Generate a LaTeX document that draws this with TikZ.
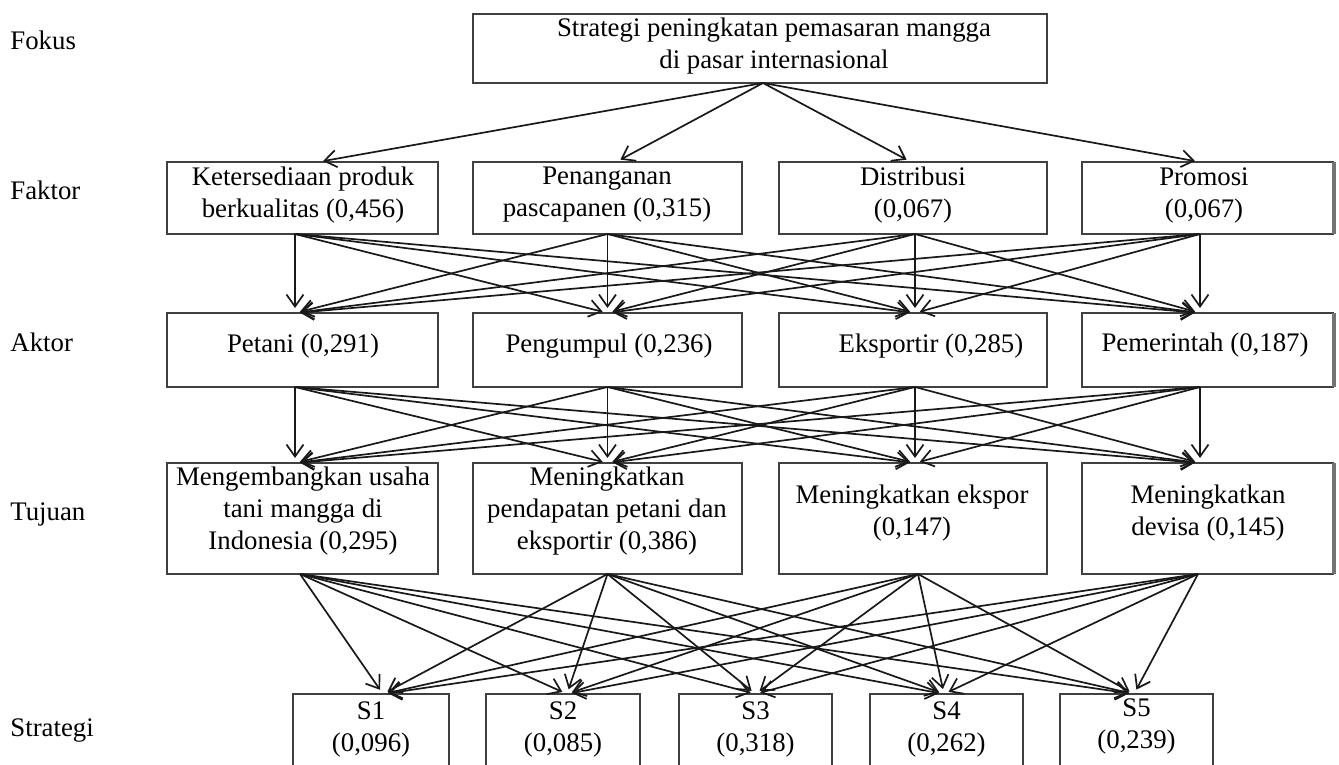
\documentclass[tikz,border=0pt]{standalone}
\usepackage{fontspec}
\setmainfont{Liberation Serif}
\usetikzlibrary{arrows.meta}
\begin{document}
\begin{tikzpicture}[x=0.5pt,y=-0.5pt,
  box/.style={draw=black!75, line width=1.1pt, rectangle, inner sep=0pt, outer sep=0pt},
  txt/.style={align=center, font=\fontsize{13.4}{16}\selectfont, inner sep=0pt},
  lbl/.style={anchor=base west, font=\fontsize{13.4}{16}\selectfont, inner sep=0pt},
  arr/.style={draw=black!90, line width=0.85pt, -{Straight Barb[length=6pt,width=8.5pt]}, shorten >=2.5pt},
  edge4/.style={draw=black!55, line width=2pt}
]
\useasboundingbox (0,0) rectangle (1339,765);
\clip (0,0) rectangle (1339,765);

% left labels
\node[lbl] (lfokus) at (10,50) {Fokus};
\node[lbl] (lfaktor) at (10,199) {Faktor};
\node[lbl] (laktor) at (10,351) {Aktor};
\node[lbl] (ltujuan) at (10,520) {Tujuan};
\node[lbl] (lstrategi) at (10,736) {Strategi};

% focus
\node[box, minimum width=287pt, minimum height=34.5pt] (T) at (760,48.5) {};
\node[txt] (Tt) at (774,46) {Strategi peningkatan pemasaran mangga\\di pasar internasional};

% faktor
\node[box, minimum width=135.5pt, minimum height=36pt] (f1) at (302.5,198) {};
\node[box, minimum width=134.5pt, minimum height=36pt] (f2) at (607.5,198) {};
\node[box, minimum width=134pt,   minimum height=36pt] (f3) at (913,198) {};
\node[box, minimum width=125.5pt, minimum height=36pt] (f4) at (1207.5,198) {};
\node[txt] (f1t) at (303,195) {Ketersediaan produk\\berkualitas (0,456)};
\node[txt] (f2t) at (607,195) {Penanganan\\pascapanen (0,315)};
\node[txt] (f3t) at (913,195) {Distribusi\\(0,067)};
\node[txt] (f4t) at (1204,195) {Promosi\\(0,067)};

% aktor
\node[box, minimum width=135.5pt, minimum height=37pt] (a1) at (302.5,350) {};
\node[box, minimum width=134.5pt, minimum height=37pt] (a2) at (607.5,350) {};
\node[box, minimum width=134pt,   minimum height=37pt] (a3) at (913,350) {};
\node[box, minimum width=125.5pt, minimum height=37pt] (a4) at (1207.5,350) {};
\node[txt] (a1t) at (303,346) {Petani (0,291)};
\node[txt] (a2t) at (609,346) {Pengumpul (0,236)};
\node[txt] (a3t) at (931,346) {Eksportir (0,285)};
\node[txt] (a4t) at (1205,345) {Pemerintah (0,187)};

% tujuan
\node[box, minimum width=135.5pt, minimum height=55.5pt] (j1) at (302.5,518.5) {};
\node[box, minimum width=134.5pt, minimum height=55.5pt] (j2) at (607.5,518.5) {};
\node[box, minimum width=134pt,   minimum height=55.5pt] (j3) at (913,518.5) {};
\node[box, minimum width=125.5pt, minimum height=55.5pt] (j4) at (1207.5,518.5) {};
\node[txt] (j1t) at (303,511) {Mengembangkan usaha\\tani mangga di\\Indonesia (0,295)};
\node[txt] (j2t) at (607,511) {Meningkatkan\\pendapatan petani dan\\eksportir (0,386)};
\node[txt] (j3t) at (912,513) {Meningkatkan ekspor\\(0,147)};
\node[txt] (j4t) at (1208,513) {Meningkatkan\\devisa (0,145)};

% strategi
\node[box, minimum width=78pt,   minimum height=53pt] (s1) at (371,747) {};
\node[box, minimum width=77pt,   minimum height=53pt] (s2) at (563,747) {};
\node[box, minimum width=76.5pt, minimum height=53pt] (s3) at (755.5,747) {};
\node[box, minimum width=76.5pt, minimum height=53pt] (s4) at (946.5,747) {};
\node[box, minimum width=76.5pt, minimum height=53pt] (s5) at (1136.5,747) {};
\node[txt] (s1t) at (371,729) {S1\\(0,096)};
\node[txt] (s2t) at (563,729) {S2\\(0,085)};
\node[txt] (s3t) at (755.5,729) {S3\\(0,318)};
\node[txt] (s4t) at (946.5,729) {S4\\(0,262)};
\node[txt] (s5t) at (1136.5,726) {S5\\(0,239)};

% thick right edges of last column
\draw[edge4] ([xshift=0.6pt]f4.north east) -- ([xshift=0.6pt]f4.south east);
\draw[edge4] ([xshift=0.6pt]a4.north east) -- ([xshift=0.6pt]a4.south east);
\draw[edge4] ([xshift=0.6pt]j4.north east) -- ([xshift=0.6pt]j4.south east);

% ports
\coordinate (To) at ([xshift=1.5pt]T.south);
\coordinate (f1i) at ([xshift=7.75pt]f1.north);
\coordinate (f2i) at ([xshift=4.25pt]f2.north);
\coordinate (f3i) at ([xshift=-1pt]f3.north);
\coordinate (f4i) at ([xshift=-3.75pt]f4.north);

\coordinate (f1o) at ([xshift=-3.75pt]f1.south);
\coordinate (f2o) at (f2.south);
\coordinate (f3o) at ([xshift=1pt]f3.south);
\coordinate (f4o) at ([xshift=-3.75pt]f4.south);

\coordinate (a1i) at ([xshift=-3.75pt]a1.north);
\coordinate (a2i) at (a2.north);
\coordinate (a3i) at ([xshift=1pt]a3.north);
\coordinate (a4i) at ([xshift=-3.75pt]a4.north);
\coordinate (a1o) at ([xshift=-3.75pt]a1.south);
\coordinate (a2o) at (a2.south);
\coordinate (a3o) at ([xshift=1pt]a3.south);
\coordinate (a4o) at ([xshift=-3.75pt]a4.south);

\coordinate (j1i) at ([xshift=-3.75pt]j1.north);
\coordinate (j2i) at (j2.north);
\coordinate (j3i) at ([xshift=1pt]j3.north);
\coordinate (j4i) at ([xshift=-3.75pt]j4.north);
\coordinate (j1o) at ([xshift=-1.25pt]j1.south);
\coordinate (j2o) at (j2.south);
\coordinate (j3o) at ([xshift=2.5pt]j3.south);
\coordinate (j4o) at ([xshift=-4.75pt]j4.south);

\coordinate (s1i) at ([xshift=6pt]s1.north);
\coordinate (s2i) at ([xshift=2pt]s2.north);
\coordinate (s3i) at (s3.north);
\coordinate (s4i) at ([xshift=-1.25pt]s4.north);
\coordinate (s5i) at ([xshift=-1.25pt]s5.north);

% connectors
\foreach \k in {1,...,4} \draw[arr] (To) -- (f\k i);
\foreach \p in {1,...,4} \foreach \q in {1,...,4} \draw[arr] (f\p o) -- (a\q i);
\foreach \p in {1,...,4} \foreach \q in {1,...,4} \draw[arr] (a\p o) -- (j\q i);
\foreach \p in {1,...,4} \foreach \q in {1,...,5} \draw[arr] (j\p o) -- (s\q i);
\end{tikzpicture}
\end{document}
